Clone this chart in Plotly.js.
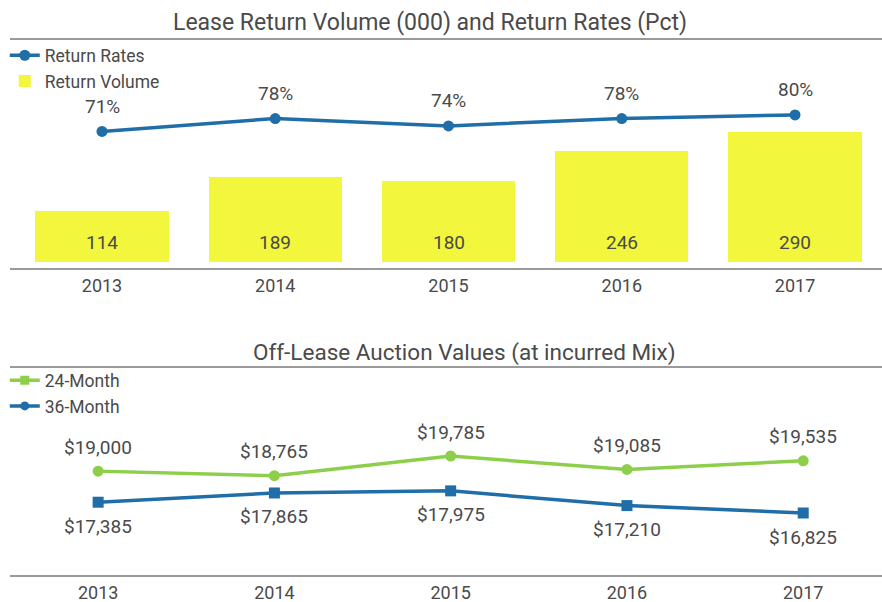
<!DOCTYPE html>
<html>
<head>
<meta charset="utf-8">
<script src="https://cdn.plot.ly/plotly-3.0.1.min.js"></script>
<style>html,body{margin:0;padding:0;background:#fff}#chart{width:882px;height:602px}</style>
</head>
<body>
<div id="chart"></div>
<script>
const years = ['2013', '2014', '2015', '2016', '2017'];
const returnVolume = [114, 189, 180, 246, 290];
const returnRates = [71, 78, 74, 78, 80];
const auction24 = [19000, 18765, 19785, 19085, 19535];
const auction36 = [17385, 17865, 17975, 17210, 16825];

const FONT = 'Roboto, "Open Sans", sans-serif';
const TXT = '#4a4a4a';
const BLUE = '#1f6ea8';
const GREEN = '#8dcf4b';
const YELLOW = '#f2f63c';
const GRAY = '#9a9a9a';

const money = v => '$' + v.toLocaleString('en-US');

const traces = [
  {type: 'scatter', mode: 'lines+markers', name: 'Return Rates', x: years, y: returnRates,
   xaxis: 'x', yaxis: 'y2', line: {color: BLUE, width: 3.5}, marker: {color: BLUE, size: 11, symbol: 'circle'},
   legend: 'legend', hoverinfo: 'skip'},
  {type: 'bar', name: 'Return Volume', x: years, y: returnVolume, xaxis: 'x', yaxis: 'y',
   marker: {color: YELLOW}, width: 0.77, legend: 'legend', hoverinfo: 'skip'},
  {type: 'scatter', mode: 'lines+markers', name: '24-Month', x: years, y: auction24,
   xaxis: 'x2', yaxis: 'y3', line: {color: GREEN, width: 3.5}, marker: {color: GREEN, size: 11, symbol: 'circle'},
   showlegend: false, hoverinfo: 'skip'},
  {type: 'scatter', mode: 'lines+markers', name: '36-Month', x: years, y: auction36,
   xaxis: 'x2', yaxis: 'y3', line: {color: BLUE, width: 3.5}, marker: {color: BLUE, size: 11, symbol: 'square'},
   showlegend: false, hoverinfo: 'skip'},
  // legend entries (as drawn in the reference)
  {type: 'scatter', mode: 'lines+markers', name: '24-Month', x: [null], y: [null],
   xaxis: 'x2', yaxis: 'y3', line: {color: GREEN, width: 3.5}, marker: {color: GREEN, size: 9, symbol: 'square'},
   legend: 'legend2'},
  {type: 'scatter', mode: 'lines+markers', name: '36-Month', x: [null], y: [null],
   xaxis: 'x2', yaxis: 'y3', line: {color: BLUE, width: 3.5}, marker: {color: BLUE, size: 9, symbol: 'circle'},
   legend: 'legend2'}
];

const annotations = [
  {text: 'Lease Return Volume (000) and Return Rates (Pct)', xref: 'paper', yref: 'paper',
   x: 0.4817, y: 0.9617, xanchor: 'center', yanchor: 'middle', showarrow: false,
   font: {family: FONT, size: 23, color: TXT}},
  {text: 'Off-Lease Auction Values (at incurred Mix)', xref: 'paper', yref: 'paper',
   x: 0.5207, y: 0.3878, xanchor: 'center', yanchor: 'middle', showarrow: false,
   font: {family: FONT, size: 22.5, color: TXT}}
];
const lblFont = {family: FONT, size: 19, color: TXT};
years.forEach((yr, i) => {
  annotations.push({text: String(returnVolume[i]), x: i, y: 0, xref: 'x', yref: 'y', yshift: 19,
    showarrow: false, yanchor: 'middle', font: lblFont});
  annotations.push({text: returnRates[i] + '%', x: i, y: returnRates[i], xref: 'x', yref: 'y2', yshift: 25,
    showarrow: false, yanchor: 'middle', font: lblFont});
  annotations.push({text: money(auction24[i]), x: i, y: auction24[i], xref: 'x2', yref: 'y3', yshift: 24,
    showarrow: false, yanchor: 'middle', font: lblFont});
  annotations.push({text: money(auction36[i]), x: i, y: auction36[i], xref: 'x2', yref: 'y3', yshift: -24,
    showarrow: false, yanchor: 'middle', font: lblFont});
});

const xStyle = {type: 'category', showline: true, linecolor: GRAY, linewidth: 2, showgrid: false,
  zeroline: false, ticks: '', tickfont: {family: FONT, size: 18, color: TXT}, ticklabelstandoff: 0,
  fixedrange: true, automargin: false};
const yHidden = {showline: false, showgrid: false, zeroline: false, showticklabels: false, ticks: '',
  fixedrange: true, automargin: false};

const layout = {
  width: 882, height: 602,
  margin: {l: 10, r: 0, t: 0, b: 27},
  paper_bgcolor: '#fff', plot_bgcolor: 'rgba(0,0,0,0)',
  font: {family: FONT, color: TXT},
  showlegend: true,
  bargap: 0,
  xaxis: Object.assign({}, xStyle, {domain: [0, 1], anchor: 'y', range: [-0.531, 4.502]}),
  yaxis: Object.assign({}, yHidden, {domain: [0.534, 0.922], range: [-13.4, 483.3]}),
  yaxis2: Object.assign({}, yHidden, {overlaying: 'y', range: [-3.5, 118.2]}),
  xaxis2: Object.assign({}, xStyle, {domain: [0, 1], anchor: 'y3', range: [-0.5, 4.447]}),
  yaxis3: Object.assign({}, yHidden, {domain: [0, 0.353], range: [13606, 24146]}),
  legend: {x: -0.006, y: 0.935, xanchor: 'left', yanchor: 'top', bgcolor: 'rgba(0,0,0,0)',
    font: {family: FONT, size: 17.5, color: TXT}, tracegroupgap: 0, traceorder: 'normal'},
  legend2: {x: -0.006, y: 0.37, xanchor: 'left', yanchor: 'top', bgcolor: 'rgba(0,0,0,0)',
    font: {family: FONT, size: 17.5, color: TXT}, tracegroupgap: 0, traceorder: 'normal'},
  shapes: [
    {type: 'line', xref: 'paper', yref: 'paper', x0: 0, x1: 1, y0: 0.9322, y1: 0.9322, line: {color: GRAY, width: 2}},
    {type: 'line', xref: 'paper', yref: 'paper', x0: 0, x1: 1, y0: 0.3617, y1: 0.3617, line: {color: GRAY, width: 2}}
  ],
  annotations: annotations
};

Plotly.newPlot('chart', traces, layout, {displayModeBar: false, staticPlot: true});
</script>
</body>
</html>
